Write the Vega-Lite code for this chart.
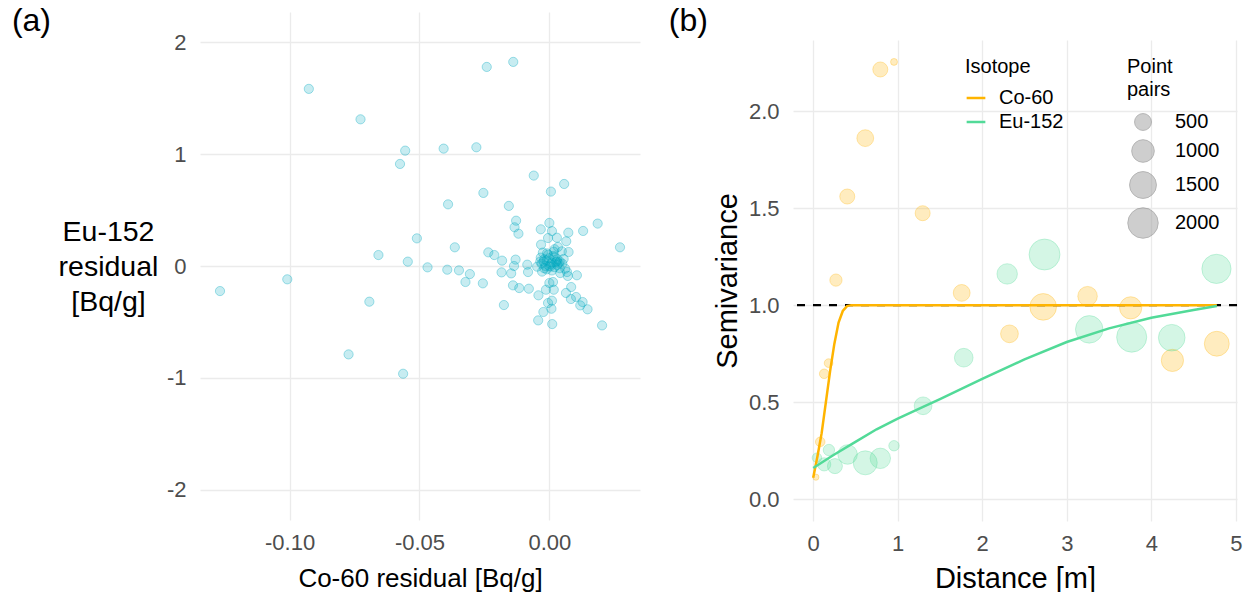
{
  "$schema": "https://vega.github.io/schema/vega-lite/v6.json",
  "background": "white",
  "padding": {"left": 11, "top": 5, "right": 5, "bottom": 5},
  "config": {
    "font": "Liberation Sans",
    "view": {"stroke": null},
    "axis": {
      "domain": false, "ticks": false, "tickSize": 0, "grid": true,
      "gridColor": "#ebebeb", "gridWidth": 1.3,
      "labelColor": "#4d4d4d", "labelFontSize": 22, "labelFont": "Liberation Sans",
      "titleFont": "Liberation Sans", "titleFontSize": 26, "titleFontWeight": "normal", "titleColor": "#000000"
    },
    "legend": {
      "titleFont": "Liberation Sans", "labelFont": "Liberation Sans",
      "titleFontSize": 20, "labelFontSize": 20, "titleFontWeight": "normal",
      "titleColor": "#000000", "labelColor": "#000000", "padding": 0
    },
    "title": {"font": "Liberation Sans", "fontSize": 32, "fontWeight": "normal", "color": "#000000"}
  },
  "datasets": {
    "resid": [
      {"co60": -0.1268, "eu152": -0.224}, {"co60": -0.1009, "eu152": -0.119}, {"co60": -0.0926, "eu152": 1.583},
      {"co60": -0.0727, "eu152": 1.311}, {"co60": -0.0555, "eu152": 1.031}, {"co60": -0.0575, "eu152": 0.912},
      {"co60": -0.0407, "eu152": 1.049}, {"co60": -0.0281, "eu152": 1.061}, {"co60": -0.0241, "eu152": 1.779},
      {"co60": -0.0139, "eu152": 1.824}, {"co60": -0.006, "eu152": 0.808}, {"co60": 0.0057, "eu152": 0.733},
      {"co60": 0.0006, "eu152": 0.665}, {"co60": -0.0254, "eu152": 0.653}, {"co60": -0.039, "eu152": 0.551},
      {"co60": -0.0156, "eu152": 0.537}, {"co60": -0.0128, "eu152": 0.405}, {"co60": -0.0134, "eu152": 0.346},
      {"co60": -0.0119, "eu152": 0.289}, {"co60": 0.0, "eu152": 0.385}, {"co60": -0.0033, "eu152": 0.328},
      {"co60": 0.0186, "eu152": 0.379}, {"co60": 0.013, "eu152": 0.313}, {"co60": 0.0073, "eu152": 0.298},
      {"co60": 0.0272, "eu152": 0.167}, {"co60": -0.051, "eu152": 0.247}, {"co60": -0.0658, "eu152": 0.098},
      {"co60": -0.0545, "eu152": 0.039}, {"co60": -0.0469, "eu152": -0.012}, {"co60": -0.0364, "eu152": 0.167},
      {"co60": -0.0393, "eu152": -0.033}, {"co60": -0.0348, "eu152": -0.039}, {"co60": -0.0306, "eu152": -0.072},
      {"co60": -0.0323, "eu152": -0.143}, {"co60": -0.0256, "eu152": -0.155}, {"co60": -0.0235, "eu152": 0.122},
      {"co60": -0.0212, "eu152": 0.098}, {"co60": -0.0182, "eu152": 0.048}, {"co60": -0.0184, "eu152": -0.057},
      {"co60": -0.0147, "eu152": -0.066}, {"co60": -0.013, "eu152": 0.057}, {"co60": -0.0136, "eu152": 0.0},
      {"co60": -0.0085, "eu152": 0.012}, {"co60": -0.0082, "eu152": -0.054}, {"co60": -0.014, "eu152": -0.173},
      {"co60": -0.0116, "eu152": -0.197}, {"co60": -0.0079, "eu152": -0.203}, {"co60": -0.0042, "eu152": -0.262},
      {"co60": -0.0175, "eu152": -0.349}, {"co60": -0.0693, "eu152": -0.319}, {"co60": -0.0773, "eu152": -0.79},
      {"co60": -0.0563, "eu152": -0.963}, {"co60": -0.0043, "eu152": -0.486}, {"co60": -0.0023, "eu152": -0.411},
      {"co60": -0.0005, "eu152": -0.331}, {"co60": 0.001, "eu152": -0.31}, {"co60": 0.0008, "eu152": -0.382},
      {"co60": 0.0011, "eu152": -0.519}, {"co60": 0.0203, "eu152": -0.531}, {"co60": 0.0147, "eu152": -0.387},
      {"co60": 0.0119, "eu152": -0.352}, {"co60": 0.0128, "eu152": -0.322}, {"co60": 0.0103, "eu152": -0.277},
      {"co60": 0.0083, "eu152": -0.295}, {"co60": 0.0064, "eu152": -0.241}, {"co60": 0.0084, "eu152": -0.188},
      {"co60": 0.0106, "eu152": -0.083}, {"co60": 0.0071, "eu152": -0.089}, {"co60": -0.0013, "eu152": -0.212},
      {"co60": 0.0017, "eu152": -0.212}, {"co60": 0.0014, "eu152": -0.143}, {"co60": 0.0, "eu152": -0.152},
      {"co60": -0.0033, "eu152": 0.075}, {"co60": -0.0032, "eu152": 0.191}, {"co60": -0.0005, "eu152": 0.25},
      {"co60": 0.0029, "eu152": 0.253}, {"co60": 0.0065, "eu152": 0.221}, {"co60": 0.0033, "eu152": 0.17},
      {"co60": 0.0048, "eu152": 0.131}, {"co60": 0.0074, "eu152": 0.125}, {"co60": 0.0055, "eu152": 0.063},
      {"co60": 0.0029, "eu152": 0.042}, {"co60": 0.0061, "eu152": -0.024}, {"co60": 0.0068, "eu152": -0.054},
      {"co60": 0.0042, "eu152": -0.063}, {"co60": 0.001, "eu152": 0.312}, {"co60": 0.0017, "eu152": 0.128},
      {"co60": -0.0009, "eu152": 0.113}, {"co60": -0.0022, "eu152": 0.039}, {"co60": -0.0047, "eu152": -0.006},
      {"co60": 0.0004, "eu152": -0.006}, {"co60": 0.0036, "eu152": 0.024}, {"co60": -0.0028, "eu152": -0.05},
      {"co60": -0.003, "eu152": 0.02}, {"co60": -0.002, "eu152": -0.02}, {"co60": -0.001, "eu152": 0.05},
      {"co60": 0.0, "eu152": 0.0}, {"co60": 0.001, "eu152": 0.03}, {"co60": 0.002, "eu152": -0.01},
      {"co60": 0.003, "eu152": 0.06}, {"co60": 0.002, "eu152": 0.08}, {"co60": -0.001, "eu152": -0.03},
      {"co60": 0.0, "eu152": 0.07}, {"co60": 0.001, "eu152": -0.04}, {"co60": 0.003, "eu152": 0.01},
      {"co60": -0.002, "eu152": 0.06}, {"co60": 0.004, "eu152": 0.04}, {"co60": 0.0005, "eu152": 0.015},
      {"co60": -0.0015, "eu152": 0.0}, {"co60": 0.0025, "eu152": 0.035}, {"co60": -0.0035, "eu152": 0.04},
      {"co60": 0.0015, "eu152": 0.09}, {"co60": 0.004, "eu152": -0.02}, {"co60": 0.005, "eu152": 0.02},
      {"co60": -0.0005, "eu152": 0.1}, {"co60": 0.002, "eu152": 0.15}, {"co60": -0.0025, "eu152": 0.12}
    ],
    "vario": [
      {"iso": "Co-60", "dist": 0.032, "gamma": 0.113, "np": 24},
      {"iso": "Co-60", "dist": 0.083, "gamma": 0.295, "np": 115},
      {"iso": "Co-60", "dist": 0.13, "gamma": 0.646, "np": 115},
      {"iso": "Co-60", "dist": 0.182, "gamma": 0.701, "np": 86},
      {"iso": "Co-60", "dist": 0.269, "gamma": 1.129, "np": 228},
      {"iso": "Co-60", "dist": 0.403, "gamma": 1.56, "np": 379},
      {"iso": "Co-60", "dist": 0.616, "gamma": 1.861, "np": 500},
      {"iso": "Co-60", "dist": 0.794, "gamma": 2.215, "np": 379},
      {"iso": "Co-60", "dist": 0.956, "gamma": 2.254, "np": 40},
      {"iso": "Co-60", "dist": 1.295, "gamma": 1.474, "np": 379},
      {"iso": "Co-60", "dist": 1.757, "gamma": 1.063, "np": 500},
      {"iso": "Co-60", "dist": 2.322, "gamma": 0.852, "np": 568},
      {"iso": "Co-60", "dist": 2.721, "gamma": 0.991, "np": 1475},
      {"iso": "Co-60", "dist": 3.246, "gamma": 1.046, "np": 715},
      {"iso": "Co-60", "dist": 3.756, "gamma": 0.986, "np": 968},
      {"iso": "Co-60", "dist": 4.25, "gamma": 0.715, "np": 968},
      {"iso": "Co-60", "dist": 4.775, "gamma": 0.801, "np": 1260},
      {"iso": "Eu-152", "dist": 0.044, "gamma": 0.213, "np": 115},
      {"iso": "Eu-152", "dist": 0.13, "gamma": 0.179, "np": 274},
      {"iso": "Eu-152", "dist": 0.186, "gamma": 0.253, "np": 186},
      {"iso": "Eu-152", "dist": 0.257, "gamma": 0.17, "np": 379},
      {"iso": "Eu-152", "dist": 0.407, "gamma": 0.23, "np": 715},
      {"iso": "Eu-152", "dist": 0.616, "gamma": 0.187, "np": 1158},
      {"iso": "Eu-152", "dist": 0.794, "gamma": 0.21, "np": 796},
      {"iso": "Eu-152", "dist": 0.956, "gamma": 0.275, "np": 148},
      {"iso": "Eu-152", "dist": 1.3, "gamma": 0.481, "np": 568},
      {"iso": "Eu-152", "dist": 1.781, "gamma": 0.729, "np": 640},
      {"iso": "Eu-152", "dist": 2.295, "gamma": 1.161, "np": 796},
      {"iso": "Eu-152", "dist": 2.737, "gamma": 1.261, "np": 2088},
      {"iso": "Eu-152", "dist": 3.266, "gamma": 0.875, "np": 1590},
      {"iso": "Eu-152", "dist": 3.768, "gamma": 0.835, "np": 1957},
      {"iso": "Eu-152", "dist": 4.242, "gamma": 0.832, "np": 1475},
      {"iso": "Eu-152", "dist": 4.771, "gamma": 1.187, "np": 1830}
    ],
    "fit": [
      {"iso": "Co-60", "dist": 0.0, "gamma": 0.11},
      {"iso": "Co-60", "dist": 0.05, "gamma": 0.22},
      {"iso": "Co-60", "dist": 0.1, "gamma": 0.34},
      {"iso": "Co-60", "dist": 0.15, "gamma": 0.5},
      {"iso": "Co-60", "dist": 0.2, "gamma": 0.66},
      {"iso": "Co-60", "dist": 0.25, "gamma": 0.8},
      {"iso": "Co-60", "dist": 0.3, "gamma": 0.91},
      {"iso": "Co-60", "dist": 0.35, "gamma": 0.97},
      {"iso": "Co-60", "dist": 0.4, "gamma": 0.995},
      {"iso": "Co-60", "dist": 0.45, "gamma": 1.0},
      {"iso": "Co-60", "dist": 4.775, "gamma": 1.0},
      {"iso": "Eu-152", "dist": 0.0, "gamma": 0.16},
      {"iso": "Eu-152", "dist": 0.25, "gamma": 0.23},
      {"iso": "Eu-152", "dist": 0.5, "gamma": 0.295},
      {"iso": "Eu-152", "dist": 0.75, "gamma": 0.36},
      {"iso": "Eu-152", "dist": 1.0, "gamma": 0.415},
      {"iso": "Eu-152", "dist": 1.3, "gamma": 0.475},
      {"iso": "Eu-152", "dist": 1.5, "gamma": 0.515},
      {"iso": "Eu-152", "dist": 2.0, "gamma": 0.62},
      {"iso": "Eu-152", "dist": 2.5, "gamma": 0.72},
      {"iso": "Eu-152", "dist": 3.0, "gamma": 0.81},
      {"iso": "Eu-152", "dist": 3.5, "gamma": 0.88},
      {"iso": "Eu-152", "dist": 4.0, "gamma": 0.935},
      {"iso": "Eu-152", "dist": 4.5, "gamma": 0.975},
      {"iso": "Eu-152", "dist": 4.775, "gamma": 0.995}
    ],
    "sill": [{"level": 1}]
  },
  "spacing": 28,
  "hconcat": [
    {
      "width": 440,
      "height": 508,
      "title": {"text": "(a)", "orient": "left", "anchor": "end", "angle": 0, "align": "right", "baseline": "top", "offset": -32, "dy": -6},
      "data": {"name": "resid"},
      "mark": {"type": "circle", "size": 85, "color": "#00a9c0", "fillOpacity": 0.22, "stroke": "#00a9c0", "strokeOpacity": 0.35, "strokeWidth": 1},
      "encoding": {
        "x": {
          "field": "co60", "type": "quantitative",
          "scale": {"domain": [-0.1345, 0.0349], "nice": false, "zero": false},
          "axis": {"values": [-0.1, -0.05, 0], "format": ".2f", "labelExpr": "replace(datum.label, '\u2212', '-')", "title": "Co-60 residual [Bq/g]", "labelPadding": 12, "titlePadding": 12}
        },
        "y": {
          "field": "eu152", "type": "quantitative",
          "scale": {"domain": [-2.27, 2.27], "nice": false, "zero": false},
          "axis": {"values": [-2, -1, 0, 1, 2], "format": "d", "labelExpr": "replace(datum.label, '\u2212', '-')", "labelPadding": 14,
            "title": ["Eu-152", "residual", "[Bq/g]"], "titleAngle": 0, "titleAlign": "center", "titleBaseline": "middle",
            "titleFontSize": 28.5, "titleX": -92, "titleY": 219, "titleLineHeight": 35}
        }
      }
    },
    {
      "bounds": "flush",
      "spacing": 27,
      "vconcat": [
        {
          "width": 444,
          "height": 1,
          "title": {"text": "(b)", "orient": "left", "anchor": "end", "angle": 0, "align": "right", "baseline": "top", "offset": 46, "dy": -6},
          "data": {"values": []},
          "mark": "point",
          "encoding": {}
        },
        {
          "width": 444,
          "height": 481,
          "layer": [
            {
              "data": {"name": "vario"},
              "mark": {"type": "circle", "fillOpacity": 0.25, "strokeOpacity": 0.3, "strokeWidth": 1},
              "encoding": {
                "x": {"field": "dist", "type": "quantitative", "scale": {"domain": [-0.239, 5.014], "nice": false, "zero": false},
                  "axis": {"values": [0, 1, 2, 3, 4, 5], "format": "d", "title": "Distance [m]", "titleFontSize": 29, "labelPadding": 12, "titlePadding": 10}},
                "y": {"field": "gamma", "type": "quantitative", "scale": {"domain": [-0.113, 2.367], "nice": false, "zero": false},
                  "axis": {"values": [0, 0.5, 1, 1.5, 2], "format": ".1f", "title": "Semivariance", "titleFontSize": 29, "labelPadding": 14, "titlePadding": 6}},
                "color": {"field": "iso", "type": "nominal", "scale": {"domain": ["Co-60", "Eu-152"], "range": ["#ffb400", "#52da98"]},
                  "legend": {"title": "Isotope", "orient": "none", "legendX": 765, "legendY": 45, "symbolType": "stroke", "symbolStrokeWidth": 2.5, "symbolSize": 350, "labelOffset": 12, "rowPadding": 3, "titlePadding": 10}},
                "stroke": {"field": "iso", "type": "nominal", "scale": {"domain": ["Co-60", "Eu-152"], "range": ["#ffb400", "#52da98"]}, "legend": null},
                "size": {"field": "np", "type": "quantitative", "scale": {"type": "pow", "exponent": 0.889, "domain": [0, 2000], "range": [20, 924]},
                  "legend": {"title": ["Point", "pairs"], "orient": "none", "legendX": 927, "legendY": 45, "values": [500, 1000, 1500, 2000], "format": "d",
                    "titleLineHeight": 23, "labelOffset": 16, "rowPadding": 4, "titlePadding": 12,
                    "symbolFillColor": "#9e9e9e", "symbolStrokeColor": "#6e6e6e", "symbolOpacity": 0.5, "symbolStrokeWidth": 1}}
              }
            },
            {
              "data": {"name": "sill"},
              "mark": {"type": "rule", "strokeDash": [8, 8], "strokeWidth": 2.4, "color": "#000000"},
              "encoding": {"y": {"field": "level", "type": "quantitative"}}
            },
            {
              "data": {"name": "fit"},
              "mark": {"type": "line", "strokeWidth": 2.5},
              "encoding": {
                "x": {"field": "dist", "type": "quantitative"},
                "y": {"field": "gamma", "type": "quantitative"},
                "color": {"field": "iso", "type": "nominal", "scale": {"domain": ["Co-60", "Eu-152"], "range": ["#ffb400", "#52da98"]},
                  "legend": {"title": "Isotope", "orient": "none", "legendX": 765, "legendY": 45, "symbolType": "stroke", "symbolStrokeWidth": 2.5, "symbolSize": 350, "labelOffset": 12, "rowPadding": 3, "titlePadding": 10}}
              }
            }
          ]
        }
      ]
    }
  ]
}
